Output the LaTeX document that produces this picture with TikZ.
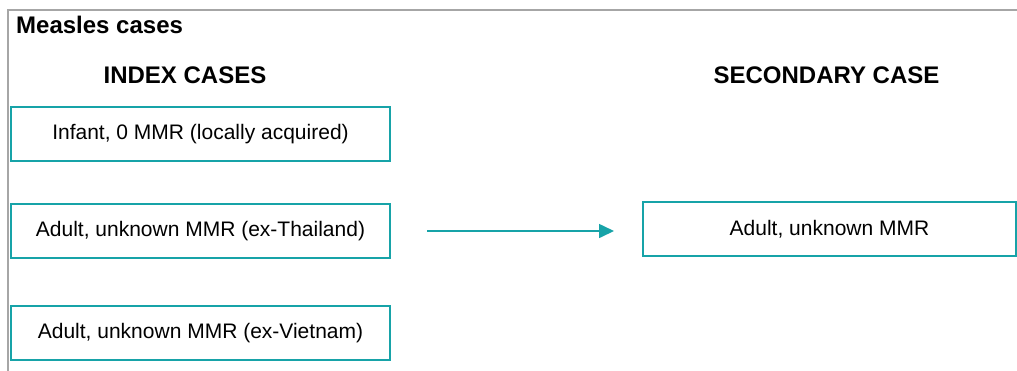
\documentclass[tikz,border=0pt]{standalone}
\usepackage{fontspec}
\setmainfont{Liberation Sans}
\usetikzlibrary{arrows.meta}
\definecolor{teal1}{HTML}{17A3A8}
\definecolor{frame}{HTML}{A6A6A6}
\tikzset{
  casebox/.style={draw=teal1, line width=2pt, minimum height=54pt, inner sep=0pt,
    font=\fontsize{21}{25}\selectfont},
  heading/.style={font=\fontsize{24}{28}\selectfont\bfseries, inner sep=0pt, anchor=base},
  link/.style={draw=teal1, line width=1.6pt, -{Triangle[length=15pt,width=14pt]}}
}
\begin{document}
\begin{tikzpicture}[x=1pt,y=-1pt]
\useasboundingbox (0,0) rectangle (1017,370);
\fill[white] (0,0) rectangle (1017,370);
\draw[frame, line width=2pt] (8,400) -- (8,10) -- (1040,10);
\node[heading, anchor=base west] (title) at (16,33) {Measles cases};
\node[heading] (idx) at (185,83) {INDEX CASES};
\node[heading] (sech) at (826.5,83) {SECONDARY CASE};
\node[casebox, minimum width=379pt] (b1) at (200.5,134) {Infant, 0 MMR (locally acquired)};
\node[casebox, minimum width=379pt] (b2) at (200.5,231) {Adult, unknown MMR (ex-Thailand)};
\node[casebox, minimum width=379pt] (b3) at (200.5,333) {Adult, unknown MMR (ex-Vietnam)};
\node[casebox, minimum width=373pt] (sec) at (829.5,229) {Adult, unknown MMR};
\draw[link, shorten <=36pt, shorten >=28pt] (b2.east) -- (b2.east -| sec.west);
\end{tikzpicture}
\end{document}
